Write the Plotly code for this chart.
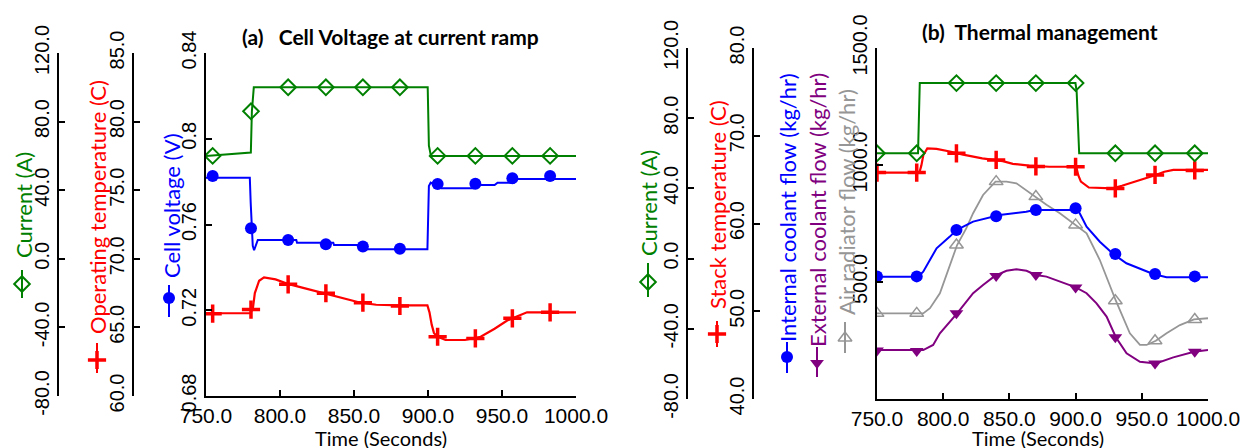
import plotly.graph_objects as go

# Reference pixel positions are used directly; the page body margin is removed after plotting.
OFF = 0
W, H = 1240, 448

# ---------------- Panel (a) data ----------------
a_cur_t = [750, 780.3, 781.0, 782.3, 899.8, 900.6, 902.0, 1000]
a_cur_v = [60, 62, 86, 100, 100, 66, 60, 60]
a_mk_t = [754.5, 780.4, 805.5, 831, 856, 881, 906.5, 932, 957, 982.5]
a_cur_mk = [60, 86, 100, 100, 100, 100, 60, 60, 60, 60]

a_volt_t = [750, 779.6, 780.2, 780.8, 781.6, 782.5, 784, 785, 811, 811.5, 836, 836.5, 857, 857.5,
            899.6, 899.9, 900.6, 901.8, 905, 909, 931, 933, 945, 947, 958, 960, 1000]
a_volt_v = [0.7818, 0.7818, 0.770, 0.758, 0.750, 0.748, 0.7515, 0.7528, 0.7528, 0.7515, 0.7515, 0.7504,
            0.7504, 0.7484, 0.7484, 0.765, 0.778, 0.7795, 0.7785, 0.7769, 0.7769, 0.7784, 0.7784, 0.7795,
            0.7795, 0.7812, 0.7812]
a_volt_mk = [0.7826, 0.7582, 0.7528, 0.7508, 0.7497, 0.7487, 0.7789, 0.779, 0.7816, 0.7826]

a_temp_t = [750, 780, 781.7, 783, 785.9, 789.2, 797, 806, 815, 831.6, 840, 854.5, 865, 881, 899.6,
            901, 902.5, 904, 906, 911.8, 925, 935.6, 945, 953.5, 960, 966.9, 1000]
a_temp_v = [66.03, 66.03, 66.4, 67.5, 68.4, 68.65, 68.5, 68.15, 67.9, 67.45, 67.2, 66.8, 66.65, 66.6,
            66.6, 66.1, 65.2, 64.6, 64.35, 64.08, 64.08, 64.32, 64.9, 65.5, 65.8, 66.1, 66.1]
a_temp_mk = [66.0, 66.3, 68.14, 67.49, 66.8, 66.56, 64.32, 64.2, 65.66, 66.1]

# ---------------- Panel (b) data ----------------
b_mk_t = [750, 780, 810, 840, 870, 900, 930, 960, 990]

b_cur_t = [750, 781, 782.3, 899.9, 900.8, 902.7, 1000]
b_cur_v = [60, 60, 100, 100, 95, 60, 60]
b_cur_mk = [60, 60, 100, 100, 100, 100, 60, 60, 60]

b_temp_t = [750, 782, 783.5, 785, 788, 795, 805, 815, 829.5, 845, 852.6, 865, 880, 900.5, 902, 904,
            910, 928, 935, 941, 950, 960, 967, 973.8, 1000]
b_temp_v = [65.8, 65.8, 66.6, 67.8, 68.55, 68.5, 68.2, 67.85, 67.43, 67.1, 66.8, 66.6, 66.47, 66.47,
            65.5, 64.77, 64.1, 64.0, 64.3, 64.57, 65.0, 65.5, 65.9, 66.1, 66.1]
b_temp_mk = [65.8, 65.8, 68.0, 67.24, 66.5, 66.47, 64.0, 65.53, 66.05]

b_int_t = [750, 781, 784.9, 795, 805, 810, 822.6, 827.6, 839, 842.6, 862.7, 868.9, 898, 901, 903.2,
           908.3, 918.3, 928.4, 938.4, 948.6, 958.6, 968.7, 1000]
b_int_v = [522, 522, 544, 644, 694, 722, 758, 765, 781, 786, 800, 808, 808, 812, 793, 736, 672, 620,
           580, 558, 534, 520, 520]
b_int_mk = [524, 524, 722, 781, 808, 815, 620, 534, 524]

b_ext_t = [750, 784.9, 792.4, 797.5, 810.5, 817.5, 822.6, 830.1, 839, 847.8, 855.3, 862.9, 870, 878,
           888.1, 900.2, 908.3, 915.8, 923.4, 930.4, 938.5, 948.6, 960.6, 973.8, 989.4, 1000]
b_ext_v = [209, 209, 231, 281, 366, 416, 452, 487, 526, 548, 554, 548, 530, 523, 501, 477, 452, 409,
           352, 264, 195, 159, 152, 178, 202, 209]
b_ext_mk = [207, 205, 366, 526, 530, 477, 264, 152, 202]

b_air_t = [750, 784.9, 790, 797.5, 810.5, 817.5, 822.6, 830.1, 839.5, 847.8, 855.3, 869.5, 878,
           888.1, 900.2, 908.3, 918.3, 923.4, 930.4, 941, 948.6, 953.6, 960.6, 968.7, 978.8, 989.4, 1000]
b_air_v = [366, 366, 388, 452, 658, 730, 794, 872, 929, 929, 922, 865, 830, 794, 744, 708, 594, 523,
           420, 281, 231, 231, 249, 281, 316, 340, 345]
b_air_mk = [366, 366, 658, 929, 865, 744, 420, 249, 340]

# ---------------- tick labels ----------------
x_ticks = [750, 800, 850, 900, 950, 1000]
x_ticktext = ["750.0", "800.0", "850.0", "900.0", "950.0", "1000.0"]
cur_ticks = [-80, -40, 0, 40, 80, 120]
cur_ticktext = ["-80.0", "-40.0", "0.0", "40.0", "80.0", "120.0"]
optemp_ticks = [60, 65, 70, 75, 80, 85]
optemp_ticktext = ["60.0", "65.0", "70.0", "75.0", "80.0", "85.0"]
volt_ticks = [0.68, 0.72, 0.76, 0.80, 0.84]
volt_ticktext = ["0.68", "0.72", "0.76", "0.8", "0.84"]
stemp_ticks = [40, 50, 60, 70, 80]
stemp_ticktext = ["40.0", "50.0", "60.0", "70.0", "80.0"]
flow_ticks = [500, 1000, 1500]
flow_ticktext = ["500.0", "1000.0", "1500.0"]

GREEN = "rgb(0,128,0)"
RED = "rgb(255,0,0)"
BLUE = "rgb(0,0,255)"
PURPLE = "rgb(128,0,128)"
GRAY = "rgb(150,150,150)"

TICKFONT = "Liberation Sans Narrow, Liberation Sans, Arial"
TEXTFONT = "Lato, Open Sans, sans-serif"

MK = {
    "green": dict(symbol="diamond-open", size=12, color=GREEN, line=dict(width=2, color=GREEN)),
    "red": dict(symbol="cross-thin", size=13, color=RED, line=dict(width=3.5, color=RED)),
    "blue": dict(symbol="circle", size=12, color=BLUE, line=dict(width=0)),
    "purple": dict(symbol="triangle-down", size=12, color=PURPLE, line=dict(width=0)),
    "gray": dict(symbol="triangle-up-open", size=12, color=GRAY, line=dict(width=1.5, color=GRAY)),
}

fig = go.Figure()


def series(t, v, tm, vm, color, mk, xa, ya, width=2):
    fig.add_trace(go.Scatter(x=t, y=v, mode="lines", line=dict(color=color, width=width),
                             xaxis=xa, yaxis=ya, showlegend=False, hoverinfo="skip"))
    fig.add_trace(go.Scatter(x=tm, y=vm, mode="markers", marker=MK[mk],
                             xaxis=xa, yaxis=ya, showlegend=False, hoverinfo="skip"))


# panel (a)
series(a_cur_t, a_cur_v, a_mk_t, a_cur_mk, GREEN, "green", "x", "y3")
series(a_temp_t, a_temp_v, a_mk_t, a_temp_mk, RED, "red", "x", "y2", 2.2)
series(a_volt_t, a_volt_v, a_mk_t, a_volt_mk, BLUE, "blue", "x", "y")
# panel (b)
series(b_cur_t, b_cur_v, b_mk_t, b_cur_mk, GREEN, "green", "x2", "y6")
series(b_temp_t, b_temp_v, b_mk_t, b_temp_mk, RED, "red", "x2", "y5", 2.2)
series(b_air_t, b_air_v, b_mk_t, b_air_mk, GRAY, "gray", "x2", "y4", 1.8)
series(b_int_t, b_int_v, b_mk_t, b_int_mk, BLUE, "blue", "x2", "y4")
series(b_ext_t, b_ext_v, b_mk_t, b_ext_mk, PURPLE, "purple", "x2", "y4")

# legend keys drawn beside the rotated axis titles (reference-pixel coordinates on an overlay axis)
keys = [
    (22, 270, 298, 284, GREEN, "green"),
    (97, 343, 373, 360, RED, "red"),
    (169, 285, 317, 298, BLUE, "blue"),
    (648, 263, 297, 282, GREEN, "green"),
    (717, 321, 347, 334, RED, "red"),
    (787, 342, 373, 357, BLUE, "blue"),
    (817, 347, 377, 363, PURPLE, "purple"),
    (845, 322, 353, 338, GRAY, "gray"),
]
for kx, y1, y2, ym, col, mk in keys:
    fig.add_trace(go.Scatter(x=[kx, kx], y=[y1, y2], mode="lines", line=dict(color=col, width=2),
                             xaxis="x3", yaxis="y7", showlegend=False, hoverinfo="skip"))
    fig.add_trace(go.Scatter(x=[kx], y=[ym], mode="markers", marker=MK[mk],
                             xaxis="x3", yaxis="y7", showlegend=False, hoverinfo="skip"))


def px(x):
    return (x - OFF) / W


def py(y):
    return 1 - (y - OFF) / H


def yax(rng, tv, tt, **kw):
    d = dict(range=rng, tickvals=tv, ticktext=tt, tickangle=-90, ticks="inside", ticklen=6,
             tickwidth=2, tickcolor="black", showline=True, linewidth=2, linecolor="black",
             showgrid=False, zeroline=False, side="left", automargin=False,
             tickfont=dict(family=TICKFONT, size=20, color="black"))
    d.update(kw)
    return d


def xax(dom, anchor):
    return dict(domain=dom, range=[750, 1000], tickvals=x_ticks, ticktext=x_ticktext, ticks="inside",
                ticklen=6, tickwidth=2, tickcolor="black", showline=True, linewidth=2, tickangle=0,
                linecolor="black", showgrid=False, zeroline=False, anchor=anchor, automargin=False,
                ticklabeloverflow="allow",
                tickfont=dict(family=TICKFONT, size=21, color="black"))


a_dom = [py(396), py(53)]
b_dom = [py(399), py(48)]

fig.update_layout(
    template="none",
    width=W, height=H, autosize=False,
    margin=dict(l=0, r=0, t=0, b=0, pad=0),
    paper_bgcolor="white", plot_bgcolor="rgba(0,0,0,0)",
    showlegend=False,
    xaxis=xax([px(206), px(576)], "y"),
    yaxis=yax([0.68, 0.84], volt_ticks, volt_ticktext, domain=a_dom, anchor="x"),
    yaxis2=yax([60, 85], optemp_ticks, optemp_ticktext, domain=a_dom, overlaying="y",
               anchor="free", position=px(133)),
    yaxis3=yax([-80, 120], cur_ticks, cur_ticktext, domain=a_dom, overlaying="y",
               anchor="free", position=px(58)),
    xaxis2=xax([px(877), px(1208)], "y4"),
    yaxis4=yax([0, 1500], flow_ticks, flow_ticktext, domain=b_dom, anchor="x2"),
    yaxis5=yax([40, 80], stemp_ticks, stemp_ticktext, domain=b_dom, overlaying="y4",
               anchor="free", position=px(753)),
    yaxis6=yax([-80, 120], cur_ticks, cur_ticktext, domain=b_dom, overlaying="y4",
               anchor="free", position=px(687)),
    xaxis3=dict(domain=[0, 1], range=[OFF, OFF + W], visible=False, anchor="y7", fixedrange=True,
                automargin=False),
    yaxis7=dict(domain=[0, 1], range=[OFF + H, OFF], visible=False, anchor="x3", fixedrange=True,
                automargin=False),
)

ann = []


def title(text, x, y, color, size=22, angle=-90, bold=False):
    ann.append(dict(text=("<b>%s</b>" % text) if bold else text, x=px(x), y=py(y), xref="paper",
                    yref="paper", showarrow=False, textangle=angle, xanchor="center",
                    yanchor="middle", font=dict(family=TEXTFONT, size=size, color=color)))


title("Current (A)", 23, 205, GREEN)
title("Operating temperature (C)", 97, 207, RED)
title("Cell voltage (V)", 171, 206, BLUE)
title("Current (A)", 648, 203, GREEN)
title("Stack temperature (C)", 717, 205, RED)
title("Internal coolant flow (kg/hr)", 787, 208, BLUE)
title("External coolant flow (kg/hr)", 817, 210, PURPLE)
title("Air radiator flow (kg/hr)", 846, 202, GRAY)
title("Time (Seconds)", 381, 438, "black", 20, 0)
title("Time (Seconds)", 1038, 438, "black", 20, 0)
title("(a)\u00a0\u00a0\u00a0Cell Voltage at current ramp", 390, 36, "black", 21, 0, True)
title("(b)\u00a0\u00a0Thermal management", 1040, 31, "black", 21, 0, True)
fig.update_layout(annotations=ann)

fig.write_html("out.html", config={"displayModeBar": False},
               post_script="document.body.style.margin='0';document.body.style.overflow='hidden';")
